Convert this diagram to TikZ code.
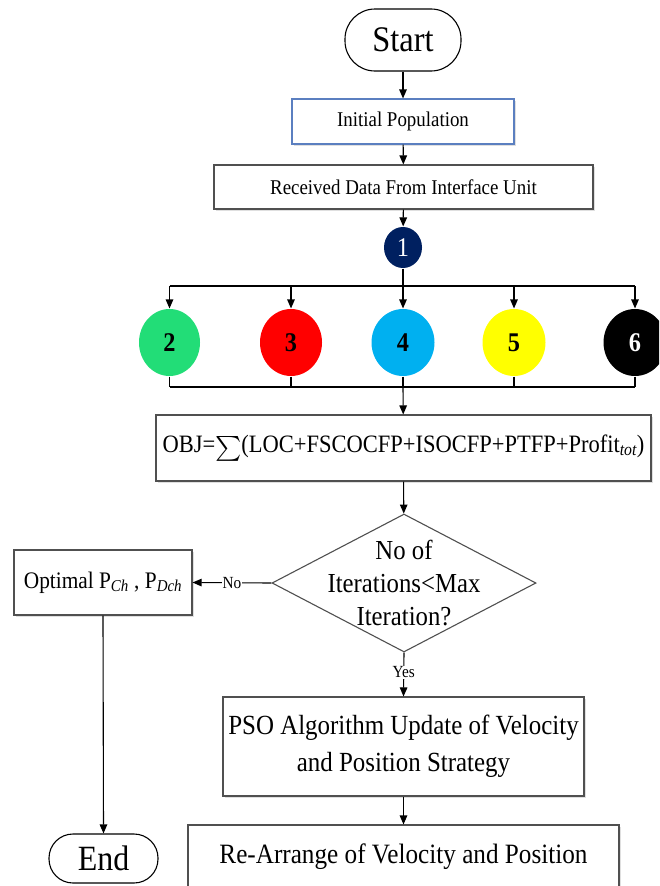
\documentclass[tikz,border=0pt]{standalone}
\usepackage{exscale}
\usepackage{fontspec}
\setmainfont[FakeStretch=0.9]{Liberation Serif}
\usetikzlibrary{arrows.meta,shapes.geometric,shadows}
\definecolor{cgreen}{HTML}{22DD77}
\definecolor{cred}{HTML}{FF0000}
\definecolor{cblue}{HTML}{00B0F0}
\definecolor{cyellow}{HTML}{FFFF00}
\definecolor{cnavy}{HTML}{002060}
\definecolor{boxline}{HTML}{505050}
\definecolor{initline}{HTML}{5B7FC0}
\newcommand{\fs}[2]{\fontsize{#1}{#2}\selectfont}
\begin{document}
\begin{tikzpicture}[x=1pt,y=-1pt,
  line width=1.1pt,
  arr/.style={-{Triangle[length=9pt,width=7.5pt]}},
  plainbox/.style={draw=boxline,rectangle,inner sep=0pt,align=center,fill=white,
     drop shadow={shadow xshift=2pt,shadow yshift=-2pt,opacity=0.25}},
  term/.style={draw=black,rectangle,rounded corners=24pt,inner sep=0pt,fill=white},
  ball/.style={ellipse,inner sep=0pt,font=\bfseries\fs{27}{28}},
  lab/.style={fill=white,inner sep=1pt,font=\fs{17}{19}}]
\useasboundingbox (0,0) rectangle (659,886);
\begin{scope}
\clip (0,0) rectangle (659,886);
\node[term,minimum width=116pt,minimum height=62pt,rounded corners=30pt,font=\fs{36}{40}] (start) at (403,40) {Start};
\node[plainbox,draw=initline,minimum width=222pt,minimum height=45pt,font=\fs{21}{24}] (init) at (403,121.5) {Initial Population};
\node[plainbox,minimum width=379pt,minimum height=44pt,font=\fs{21}{24}] (recv) at (403.5,187) {Received Data From Interface Unit};
\node[ball,fill=cnavy,text=white,font=\fs{27}{28},minimum width=38pt,minimum height=41pt] (c1) at (403,247.5) {1};
\node[ball,fill=cgreen,minimum width=61pt,minimum height=67pt] (c2) at (169.5,342.5) {2};
\node[ball,fill=cred,minimum width=62pt,minimum height=67pt] (c3) at (291,342.5) {3};
\node[ball,fill=cblue,minimum width=63pt,minimum height=67pt] (c4) at (403,342.5) {4};
\node[ball,fill=cyellow,minimum width=63pt,minimum height=67pt] (c5) at (514,342.5) {5};
\node[ball,fill=black,text=white,minimum width=63pt,minimum height=67pt] (c6) at (635,342.5) {6};
\node[plainbox,minimum width=495pt,minimum height=66pt,font=\fs{25}{28}] (obj) at (403.5,448)
  {OBJ=\raisebox{-0.12em}{$\sum$}(LOC+FSCOCFP+ISOCFP+PTFP+Profit\textsubscript{\itshape tot})};
\node[diamond,draw=boxline,fill=white,minimum width=264pt,minimum height=138pt,inner xsep=-30pt,inner ysep=-22pt,aspect=1.91,align=center,font=\fs{27.5}{33}] (dec) at (404,583)
  {No of\\Iterations<Max\\Iteration?};
\node[plainbox,minimum width=178pt,minimum height=65pt,font=\fs{23.7}{26}] (opt) at (103,582.5)
  {Optimal P\textsubscript{\itshape Ch} , P\textsubscript{\itshape Dch}};
\node[plainbox,minimum width=361pt,minimum height=99pt,font=\fs{27.7}{37}] (pso) at (403.5,746.5)
  {PSO Algorithm Update of Velocity\\and Position Strategy};
\node[plainbox,minimum width=431pt,minimum height=64pt,font=\fs{28}{30}] (rearr) at (403.5,857)
  {Re-Arrange of Velocity and Position};
\node[term,minimum width=109pt,minimum height=49pt,font=\fs{35.5}{38}] (end) at (103.5,858.5) {End};
% connectors
\draw[arr] (start) -- (init);
\draw[arr] (init) -- (recv);
\draw[arr] (recv) -- (c1);
\coordinate (t0) at (403,286);
\coordinate (b0) at (403,387);
\draw (c1.south) -- (t0);
\draw (c2.north |- t0) -- (c6.north |- t0);
\foreach \c in {c2,c3,c4,c5,c6} {
  \draw[arr] (\c.north |- t0) -- (\c.north);
  \draw (\c.south) -- (\c.south |- b0);
}
\draw (c2.south |- b0) -- (c6.south |- b0);
\draw[arr] (b0) -- (obj);
\draw[arr] (obj) -- (dec);
\draw[arr] (dec.west) -- node[lab]{No} (opt.east);
\draw[arr] (dec.south) -- node[lab,pos=0.45]{Yes} (pso.north);
\draw[arr] (pso) -- (rearr);
\draw[arr] (opt.south) -- (end.north);
\end{scope}
\end{tikzpicture}
\end{document}
